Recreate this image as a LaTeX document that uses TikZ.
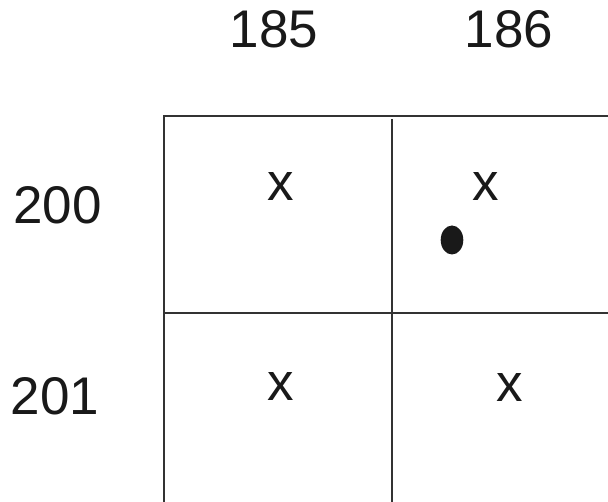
\documentclass[tikz,border=0pt]{standalone}
\usepackage{fontspec}
\setmainfont{Liberation Sans}
\begin{document}
\begin{tikzpicture}[x=1pt,y=-1pt,
  lbl/.style={inner sep=0pt,anchor=center,font=\fontsize{53}{60}\selectfont,text=black!90},
  gridline/.style={line width=2pt,draw=black!80}]
\useasboundingbox (0,0) rectangle (608,502);
% labels
\node[lbl] (c185) at (274,29.5) {185};
\node[lbl] (c186) at (509,29.5) {186};
\node[lbl] (r200) at (57.5,205) {200};
\node[lbl] (r201) at (55,396.7) {201};
\node[lbl] (x11) at (280.5,187) {x};
\node[lbl] (x12) at (486,187) {x};
\node[lbl] (x21) at (280.5,387) {x};
\node[lbl] (x22) at (510,388) {x};
% grid
\coordinate (tl) at (164,116);
\coordinate (tr) at (608,116);
\coordinate (bl) at (164,502);
\coordinate (mt) at (391.5,119);
\coordinate (mb) at (391.5,502);
\coordinate (ml) at (164,313.5);
\coordinate (mr) at (608,313.5);
\draw[gridline] (bl) -- (tl) -- (tr);
\draw[gridline] (mt) -- (mb);
\draw[gridline] (ml) -- (mr);
% dot
\fill[black!90] (452,240) ellipse [x radius=11.3, y radius=14.5];
\end{tikzpicture}
\end{document}
